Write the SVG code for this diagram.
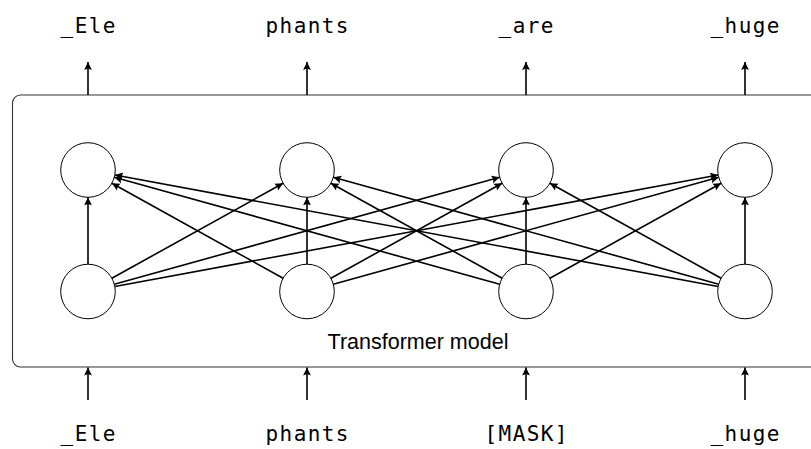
<svg xmlns="http://www.w3.org/2000/svg" width="811" height="449" viewBox="0 0 811 449">
<style>
.tok{font-family:"DejaVu Sans Mono","Liberation Mono",monospace;font-size:21px;letter-spacing:1.4px;fill:#000;text-anchor:middle}
.lbl{font-family:"Liberation Sans","DejaVu Sans",sans-serif;font-size:21.5px;fill:#000;text-anchor:middle}
.node{fill:#fff;stroke:#000;stroke-width:1}
.edge{fill:none;stroke:#000;stroke-width:1.6;marker-end:url(#ah)}
.box{fill:none;stroke:#333;stroke-width:1.1}
</style>
<defs>
<marker id="ah" markerUnits="userSpaceOnUse" markerWidth="10" markerHeight="10" refX="8" refY="4.5" orient="auto">
<path d="M0,0.6 L8,4.5 L0,8.4 L1.4,4.5 Z" fill="#000"/>
</marker>
</defs>
<rect class="box" x="12.5" y="95" width="820" height="272" rx="8"/>
<g id="connectors">
<path class="edge" d="M88 95 L88 62"/>
<path class="edge" d="M307 95 L307 62"/>
<path class="edge" d="M526 95 L526 62"/>
<path class="edge" d="M745 95 L745 62"/>
<path class="edge" d="M88 400 L88 367.5"/>
<path class="edge" d="M307 400 L307 367.5"/>
<path class="edge" d="M526 400 L526 367.5"/>
<path class="edge" d="M745 400 L745 367.5"/>
<path class="edge" d="M88 264.2 L88 197.3"/>
<path class="edge" d="M111.87 278.26 L283.13 183.24"/>
<path class="edge" d="M114.31 284.2 L499.69 177.3"/>
<path class="edge" d="M114.85 286.54 L718.15 174.96"/>
<path class="edge" d="M283.13 278.26 L111.87 183.24"/>
<path class="edge" d="M307 264.2 L307 197.3"/>
<path class="edge" d="M330.87 278.26 L502.13 183.24"/>
<path class="edge" d="M333.31 284.2 L718.69 177.3"/>
<path class="edge" d="M499.69 284.2 L114.31 177.3"/>
<path class="edge" d="M502.13 278.26 L330.87 183.24"/>
<path class="edge" d="M526 264.2 L526 197.3"/>
<path class="edge" d="M549.87 278.26 L721.13 183.24"/>
<path class="edge" d="M718.15 286.54 L114.85 174.96"/>
<path class="edge" d="M718.69 284.2 L333.31 177.3"/>
<path class="edge" d="M721.13 278.26 L549.87 183.24"/>
<path class="edge" d="M745 264.2 L745 197.3"/>
</g>
<g id="top0"><circle class="node" cx="88" cy="170" r="27.3"/></g>
<g id="top1"><circle class="node" cx="307" cy="170" r="27.3"/></g>
<g id="top2"><circle class="node" cx="526" cy="170" r="27.3"/></g>
<g id="top3"><circle class="node" cx="745" cy="170" r="27.3"/></g>
<g id="bot0"><circle class="node" cx="88" cy="291.5" r="27.3"/></g>
<g id="bot1"><circle class="node" cx="307" cy="291.5" r="27.3"/></g>
<g id="bot2"><circle class="node" cx="526" cy="291.5" r="27.3"/></g>
<g id="bot3"><circle class="node" cx="745" cy="291.5" r="27.3"/></g>
<g id="model-label"><text class="lbl" x="418" y="349">Transformer model</text></g>
<g id="out0"><text class="tok" x="88.7" y="33">_Ele</text></g>
<g id="out1"><text class="tok" x="307.7" y="33">phants</text></g>
<g id="out2"><text class="tok" x="526.7" y="33">_are</text></g>
<g id="out3"><text class="tok" x="745.7" y="33">_huge</text></g>
<g id="in0"><text class="tok" x="88.7" y="441">_Ele</text></g>
<g id="in1"><text class="tok" x="307.7" y="441">phants</text></g>
<g id="in2"><text class="tok" x="526.7" y="441">[MASK]</text></g>
<g id="in3"><text class="tok" x="745.7" y="441">_huge</text></g>
</svg>
